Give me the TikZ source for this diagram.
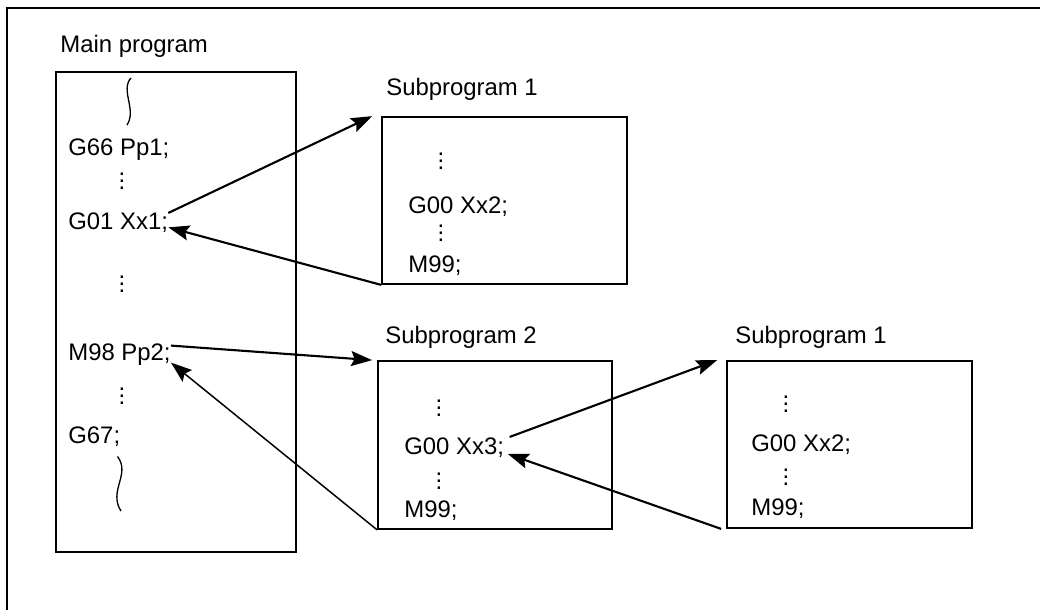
\documentclass[tikz,border=0pt]{standalone}
\usepackage{fontspec}
\setmainfont{Liberation Sans}
\usetikzlibrary{arrows.meta}
\newcommand{\progdots}{\vbox{\baselineskip4pt\lineskiplimit0pt\hbox{.}\hbox{.}\hbox{.}}}
\begin{document}
\begin{tikzpicture}[
  code/.style={anchor=base west,inner sep=0pt,font=\fontsize{13.6}{16}\selectfont},
  dots/.style={anchor=south,inner sep=0pt,font=\fontsize{13.6}{16}\selectfont},
  prog/.style={draw,line width=1pt,inner sep=0pt},
  call/.style={line width=1.2pt,-{Stealth[length=0.42cm,width=0.3cm,inset=0.07cm]}},
  wave/.style={line width=0.75pt}
]
  \useasboundingbox (0,0) rectangle (20.8,12.2);
  \draw[line width=1.2pt] (0.14,0) -- (0.14,12.04) -- (20.8,12.04);

  \node[code] (mainlbl) at (1.2,11.14) {Main program};
  \node[prog,line width=0.8pt,minimum width=4.8cm,minimum height=9.6cm] (main) at (3.52,5.96) {};
  \node[code] (g66) at (1.36,9.08) {G66 Pp1;};
  \node[code] (g01) at (1.36,7.6)  {G01 Xx1;};
  \node[code] (m98) at (1.36,5.0)  {M98 Pp2;};
  \node[code] (g67) at (1.36,3.34) {G67;};
  \node[dots] (d1) at (2.44,8.4)  {\progdots};
  \node[dots] (d2) at (2.44,6.34) {\progdots};
  \node[dots] (d3) at (2.44,4.1)  {\progdots};
  \draw[wave] (2.62,10.64) .. controls (2.40,10.4) and (2.74,10.0) .. (2.54,9.7);
  \draw[wave] (2.35,3.07) .. controls (2.62,2.72) and (2.16,2.38) .. (2.42,1.98);

  \node[code] (sub1lbl) at (7.72,10.28) {Subprogram 1};
  \node[prog,minimum width=4.9cm,minimum height=3.34cm] (sub1) at (10.09,8.19) {};
  \node[dots] (d4) at (8.82,8.8)  {\progdots};
  \node[code] (xa) at (8.16,7.92) {G00 Xx2;};
  \node[dots] (d5) at (8.82,7.36) {\progdots};
  \node[code] (ma) at (8.16,6.74) {M99;};

  \node[code] (sub2lbl) at (7.7,5.34) {Subprogram 2};
  \node[prog,minimum width=4.68cm,minimum height=3.36cm] (sub2) at (9.9,3.3) {};
  \node[dots] (d6) at (8.78,3.86) {\progdots};
  \node[code] (xb) at (8.08,3.12) {G00 Xx3;};
  \node[dots] (d7) at (8.78,2.4)  {\progdots};
  \node[code] (mb) at (8.08,1.86) {M99;};

  \node[code] (sub1rlbl) at (14.7,5.34) {Subprogram 1};
  \node[prog,minimum width=4.9cm,minimum height=3.34cm] (sub1r) at (16.99,3.31) {};
  \node[dots] (d8) at (15.72,3.94) {\progdots};
  \node[code] (xc) at (15.02,3.18) {G00 Xx2;};
  \node[dots] (d9) at (15.72,2.48) {\progdots};
  \node[code] (mc) at (15.02,1.9)  {M99;};

  \draw[call] (g01.north east) -- ([xshift=-0.18cm]sub1.north west);
  \draw[call] (sub1.south west) -- ([yshift=1.5pt]g01.base east);
  \draw[call] ([yshift=-1.5pt]m98.north east) -- ([xshift=-0.1cm]sub2.north west);
  \draw[call,line width=0.85pt] (sub2.south west) -- ([yshift=-1.5pt]m98.base east);
  \draw[call] ([xshift=3pt]xb.north east) -- ([xshift=-0.18cm]sub1r.north west);
  \draw[call] ([xshift=-0.1cm]sub1r.south west) -- ([xshift=2pt]xb.base east);
\end{tikzpicture}
\end{document}
